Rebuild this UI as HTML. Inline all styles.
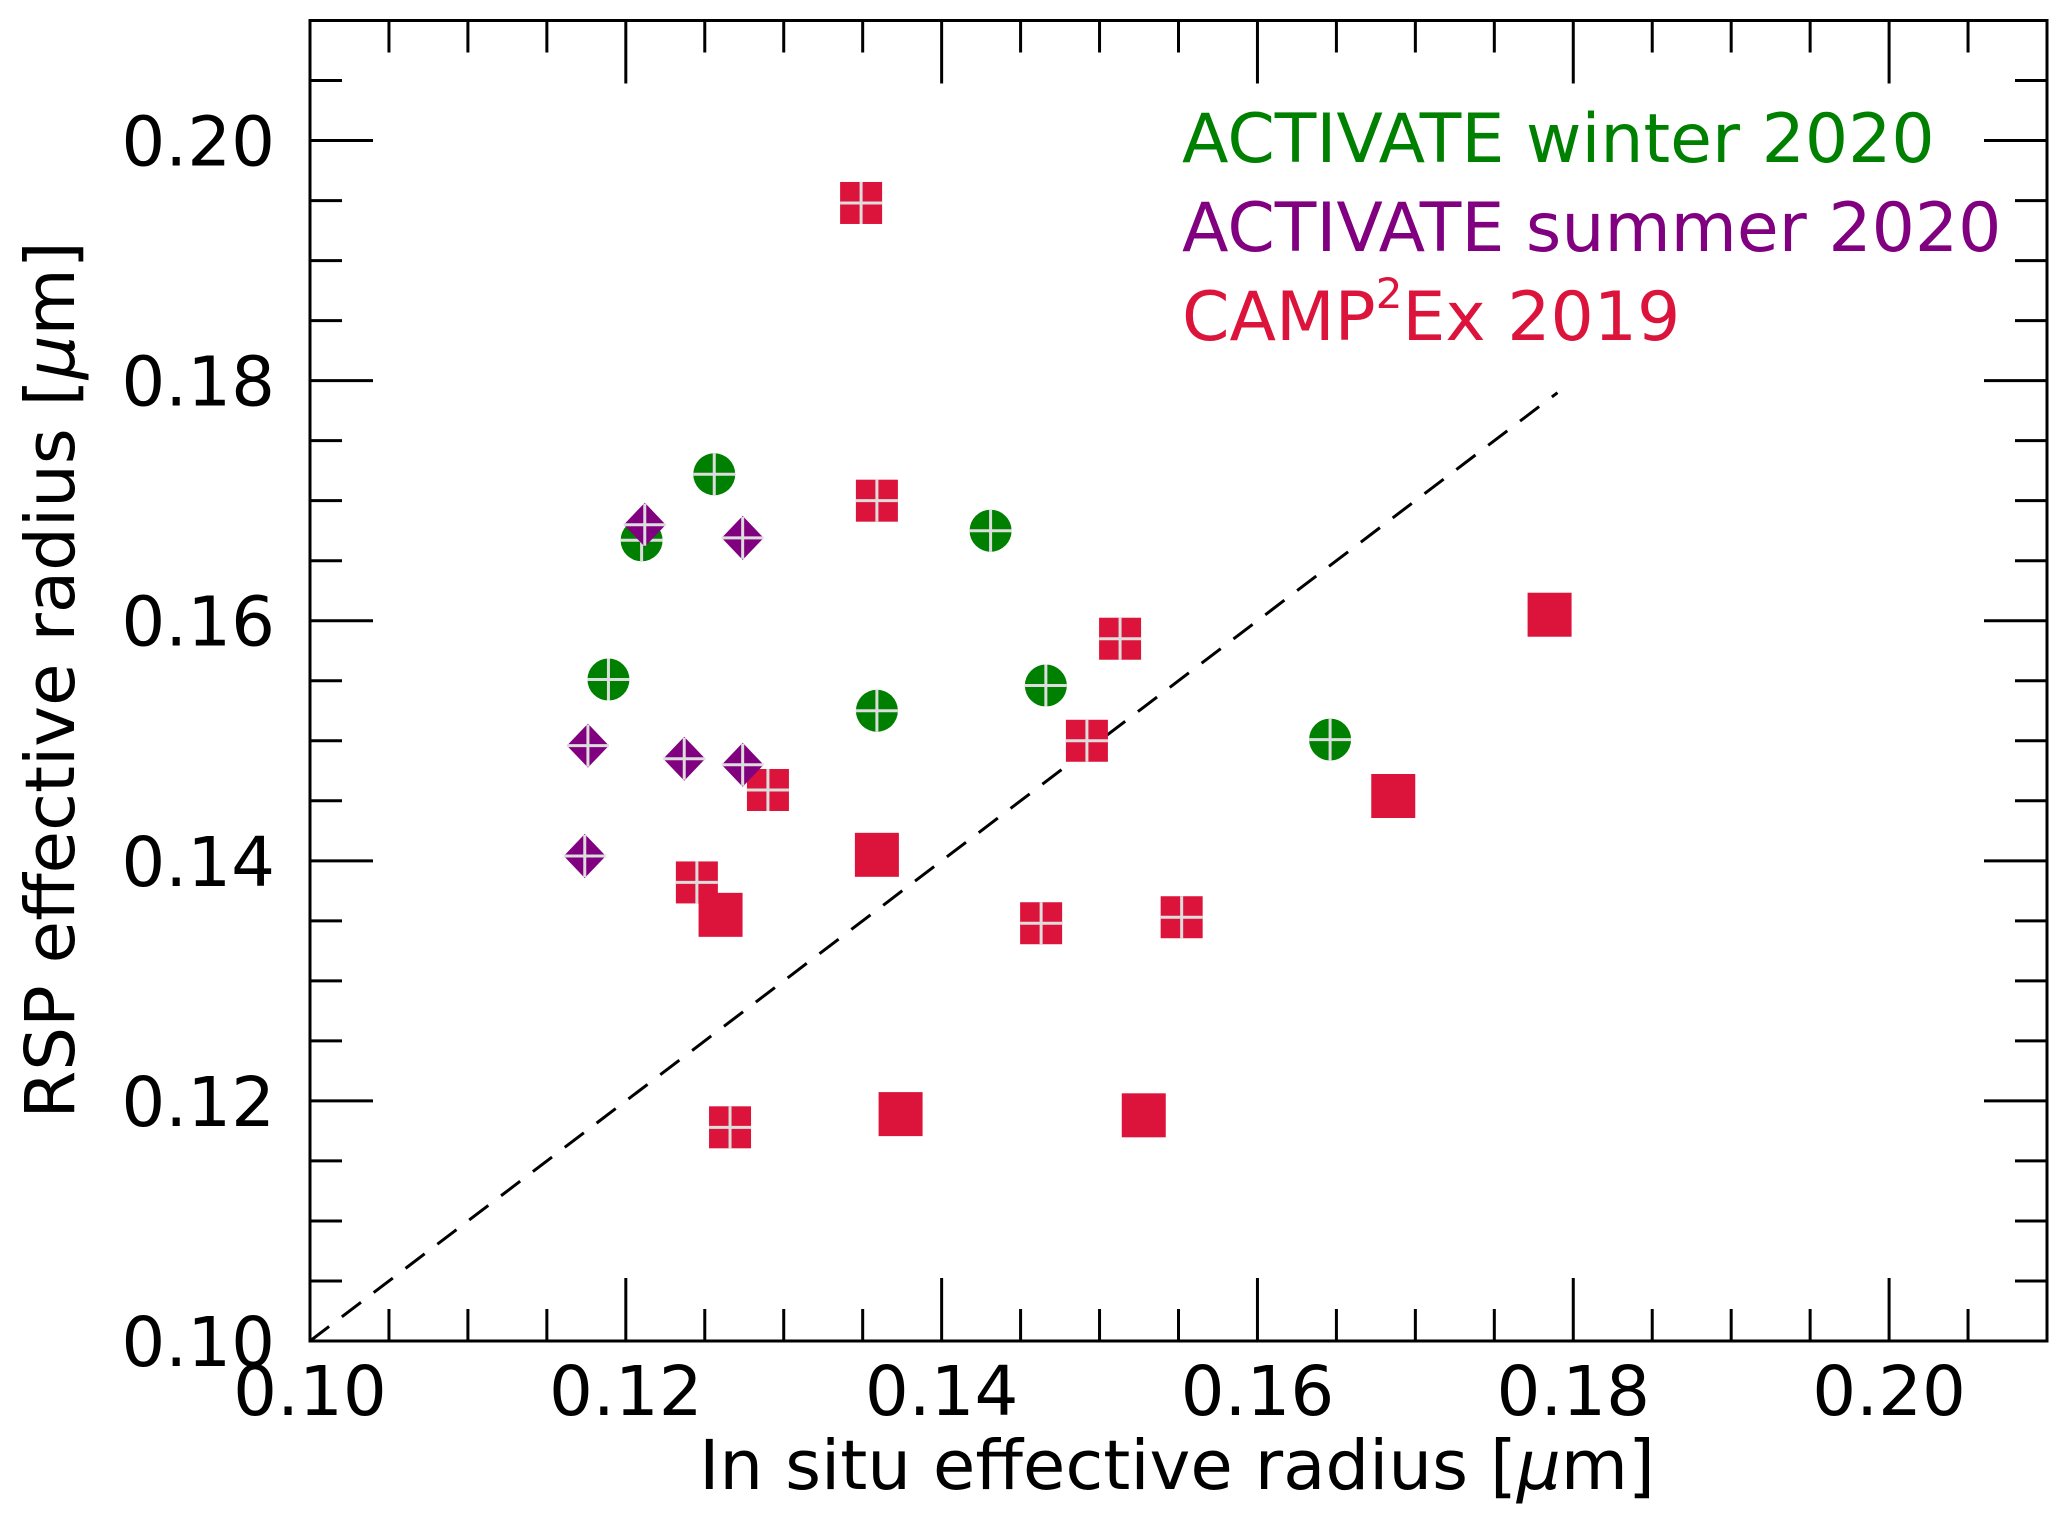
<!DOCTYPE html>
<html><head><meta charset="utf-8"><style>
html,body{margin:0;padding:0;background:#fff}
svg{display:block;font-family:"DejaVu Sans","Liberation Sans",sans-serif}
</style></head><body>
<svg id="chart" width="2067" height="1520" viewBox="0 0 2067 1520" xmlns="http://www.w3.org/2000/svg">
<g id="ticks"></g>
<g id="marks"></g>
<rect x="310" y="20.5" width="1737" height="1320.5" fill="none" stroke="#000" stroke-width="3"/>
<g id="labels" font-size="69" fill="#000"></g>
<text x="1177" y="1489" font-size="69" text-anchor="middle">In situ effective radius [<tspan font-style="italic">μ</tspan>m]</text>
<text transform="translate(74,680) rotate(-90)" font-size="69" text-anchor="middle">RSP effective radius [<tspan font-style="italic">μ</tspan>m]</text>
<text x="1182" y="162" font-size="68" fill="#008000">ACTIVATE winter 2020</text>
<text x="1182" y="251" font-size="68" fill="#800080">ACTIVATE summer 2020</text>
<text x="1182" y="340" font-size="68" fill="#dc143c">CAMP<tspan font-size="42" dy="-32">2</tspan><tspan dy="32">Ex 2019</tspan></text>
</svg>
<script>
const winterX=[0.1256,0.1210,0.1431,0.1189,0.1359,0.1466,0.1646];
const winterY=[0.1722,0.1667,0.1675,0.1551,0.1525,0.1546,0.1501];
const summerX=[0.1212,0.1274,0.1176,0.1237,0.1274,0.1174];
const summerY=[0.1680,0.1669,0.1496,0.1485,0.1480,0.1404];
const campCrossX=[0.1349,0.1359,0.1513,0.1492,0.1290,0.1245,0.1463,0.1552,0.1266];
const campCrossY=[0.1948,0.1700,0.1585,0.1500,0.1459,0.1382,0.1348,0.1353,0.1178];
const campSolidX=[0.1785,0.1686,0.1359,0.1260,0.1374,0.1528];
const campSolidY=[0.1605,0.1454,0.1405,0.1355,0.1189,0.1188];
const majorTicks=[0.10,0.12,0.14,0.16,0.18,0.20];
const tickLabels=["0.10","0.12","0.14","0.16","0.18","0.20"];
const oneToOne=[0.10,0.179];

const X0=310,X1=2047,Y0=1341,Y1=20.5,DMIN=0.10,DMAX=0.21;
function sx(v){return X0+(v-DMIN)/(DMAX-DMIN)*(X1-X0);}
function sy(v){return Y0-(v-DMIN)/(DMAX-DMIN)*(Y0-Y1);}
const NS="http://www.w3.org/2000/svg";
function mk(tag,attrs,parent){const e=document.createElementNS(NS,tag);for(const k in attrs)e.setAttribute(k,attrs[k]);parent.appendChild(e);return e;}
const ticks=document.getElementById('ticks'),marks=document.getElementById('marks'),labels=document.getElementById('labels');
for(let i=0;i<=22;i++){
  const v=DMIN+i*0.005; const major=(i%4===0); const L=major?63:32;
  const x=sx(v),y=sy(v);
  const t=mk('path',{d:`M${x},${Y0}v${-L}M${x},${Y1}v${L}M${X0},${y}h${L}M${X1},${y}h${-L}`,stroke:'#000','stroke-width':3,fill:'none'},ticks);
  
  
}
majorTicks.forEach((v,i)=>{
  const a=mk('text',{x:sx(v),y:1415,'text-anchor':'middle'},labels);a.textContent=tickLabels[i];
  
  
  const b=mk('text',{x:275,y:sy(v)+25,'text-anchor':'end'},labels);b.textContent=tickLabels[i];
  
  
});
const dl=mk('line',{x1:sx(oneToOne[0]),y1:sy(oneToOne[0]),x2:sx(oneToOne[1]),y2:sy(oneToOne[1]),stroke:'#000','stroke-width':3,'stroke-dasharray':'24,16'},marks);


function cross(x,y,r){const c=mk('path',{d:`M${x-r},${y}h${2*r}M${x},${y-r}v${2*r}`,stroke:'#ddd','stroke-width':3},marks);
  
  }
campSolidX.forEach((v,i)=>{const x=sx(v),y=sy(campSolidY[i]);
  const r=mk('rect',{x:x-22,y:y-22,width:44,height:44,fill:'#dc143c'},marks);
  
  });
campCrossX.forEach((v,i)=>{const x=sx(v),y=sy(campCrossY[i]);
  const r=mk('rect',{x:x-21,y:y-21,width:42,height:42,fill:'#dc143c'},marks);
  
  cross(x,y,21);});
winterX.forEach((v,i)=>{const x=sx(v),y=sy(winterY[i]);
  const c=mk('circle',{cx:x,cy:y,r:21,fill:'#008000'},marks);
  
  cross(x,y,21);});
summerX.forEach((v,i)=>{const x=sx(v),y=sy(summerY[i]);
  const p=mk('path',{d:`M${x},${y-22}L${x+21},${y}L${x},${y+22}L${x-21},${y}Z`,fill:'#800080'},marks);
  
  cross(x,y,21);});
</script>
</body></html>
